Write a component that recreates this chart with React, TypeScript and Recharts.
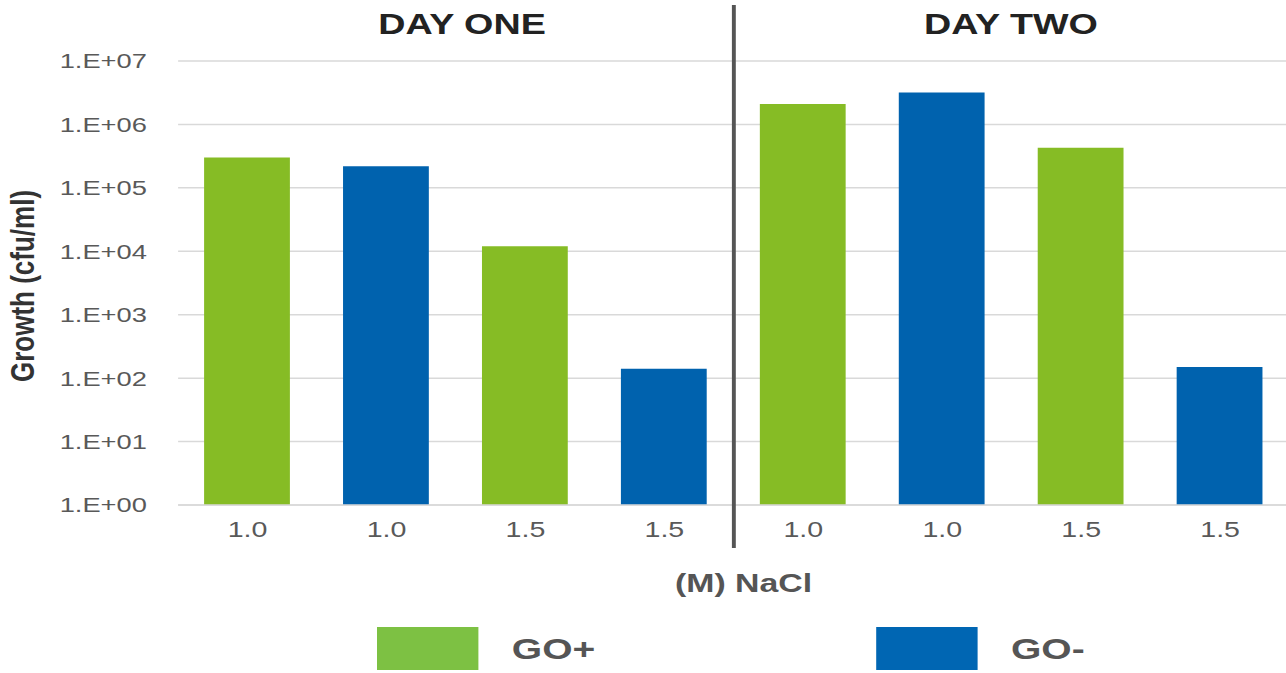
import { Bar, BarChart, CartesianGrid, Cell, XAxis, YAxis } from "recharts";

// the reference is drawn wide: everything is laid out narrow and stretched by this factor
const STRETCH = 1.3;

const categories = ["1.0", "1.0", "1.5", "1.5", "1.0", "1.0", "1.5", "1.5"];
const groups = ["GO+", "GO-", "GO+", "GO-", "GO+", "GO-", "GO+", "GO-"];
const growth = [3.0e5, 2.2e5, 1.2e4, 1.4e2, 2.1e6, 3.2e6, 4.3e5, 1.5e2];
const yTicks = [1, 10, 100, 1e3, 1e4, 1e5, 1e6, 1e7];
const dayLabels = ["DAY ONE", "DAY TWO"];
const legendItems = ["GO+", "GO-"];

const COLORS: Record<string, string> = {
  "GO+": "#86BC25",
  "GO-": "#0062AE",
};
const LEGEND_COLORS: Record<string, string> = {
  "GO+": "#7DC143",
  "GO-": "#0066B3",
};

const data = categories.map((label, i) => ({
  id: i,
  label,
  group: groups[i],
  growth: growth[i],
}));

const FONT = "'Liberation Sans', Arial, sans-serif";

function formatExp(v: number) {
  const exp = Math.round(Math.log10(v));
  return `1.E+${String(exp).padStart(2, "0")}`;
}

export default function App() {
  const innerWidth = 1286 / STRETCH;

  return (
    <div
      style={{
        position: "absolute",
        left: 0,
        top: 0,
        width: 1286,
        height: 673,
        overflow: "hidden",
        background: "#fff",
        fontFamily: FONT,
      }}
    >
      <div
        style={{
          position: "relative",
          width: innerWidth,
          height: 673,
          transform: `scaleX(${STRETCH})`,
          transformOrigin: "0 0",
        }}
      >
        <BarChart
          width={995}
          height={673}
          data={data}
          margin={{ top: 61, right: 3, left: 0, bottom: 0 }}
        >
          <CartesianGrid vertical={false} stroke="#d9d9d9" strokeWidth={1.5} />
          <XAxis
            dataKey="id"
            height={168}
            tickFormatter={(_v, i) => categories[i]}
            axisLine={{ stroke: "#d9d9d9", strokeWidth: 1.5 }}
            tickLine={false}
            tickMargin={10}
            tick={{ fontSize: 22, fill: "#595959", fontFamily: FONT }}
          />
          <YAxis
            scale="log"
            type="number"
            domain={[1, 1e7]}
            ticks={yTicks}
            allowDataOverflow
            width={137}
            axisLine={false}
            tickLine={false}
            tickMargin={18}
            tickFormatter={formatExp}
            tick={{ fontSize: 21, fill: "#595959", fontFamily: FONT }}
          />
          <Bar dataKey="growth" barSize={66} isAnimationActive={false}>
            {data.map((d) => (
              <Cell key={d.id} fill={COLORS[d.group]} />
            ))}
          </Bar>
        </BarChart>

        {/* day divider */}
        <div
          style={{
            position: "absolute",
            left: 562.7,
            top: 5,
            width: 3.8,
            height: 543,
            background: "#555",
          }}
        />

        {dayLabels.map((t, i) => (
          <div
            key={t}
            style={{
              position: "absolute",
              left: (i === 0 ? 355.4 : 777.7) - 120,
              width: 240,
              top: 10,
              textAlign: "center",
              fontSize: 29,
              lineHeight: "29px",
              fontWeight: 700,
              color: "#222",
              whiteSpace: "nowrap",
            }}
          >
            {t}
          </div>
        ))}

        <div
          style={{
            position: "absolute",
            left: 16.5,
            top: 285.5,
            transform: "translate(-50%, -50%) rotate(-90deg)",
            fontSize: 26,
            lineHeight: "26px",
            fontWeight: 700,
            color: "#333",
            whiteSpace: "nowrap",
          }}
        >
          Growth (cfu/ml)
        </div>

        <div
          style={{
            position: "absolute",
            left: 572 - 120,
            width: 240,
            top: 570,
            textAlign: "center",
            fontSize: 26,
            lineHeight: "26px",
            fontWeight: 700,
            color: "#555",
          }}
        >
          (M) NaCl
        </div>

        {legendItems.map((name, i) => (
          <div
            key={name}
            style={{
              position: "absolute",
              left: i === 0 ? 290 : 674,
              top: 627,
              display: "flex",
              alignItems: "center",
            }}
          >
            <div
              style={{
                width: 77.7,
                height: 43,
                background: LEGEND_COLORS[name],
              }}
            />
            <span
              style={{
                marginLeft: 26,
                fontSize: 30,
                lineHeight: "30px",
                fontWeight: 700,
                color: "#555",
              }}
            >
              {name}
            </span>
          </div>
        ))}
      </div>
    </div>
  );
}
